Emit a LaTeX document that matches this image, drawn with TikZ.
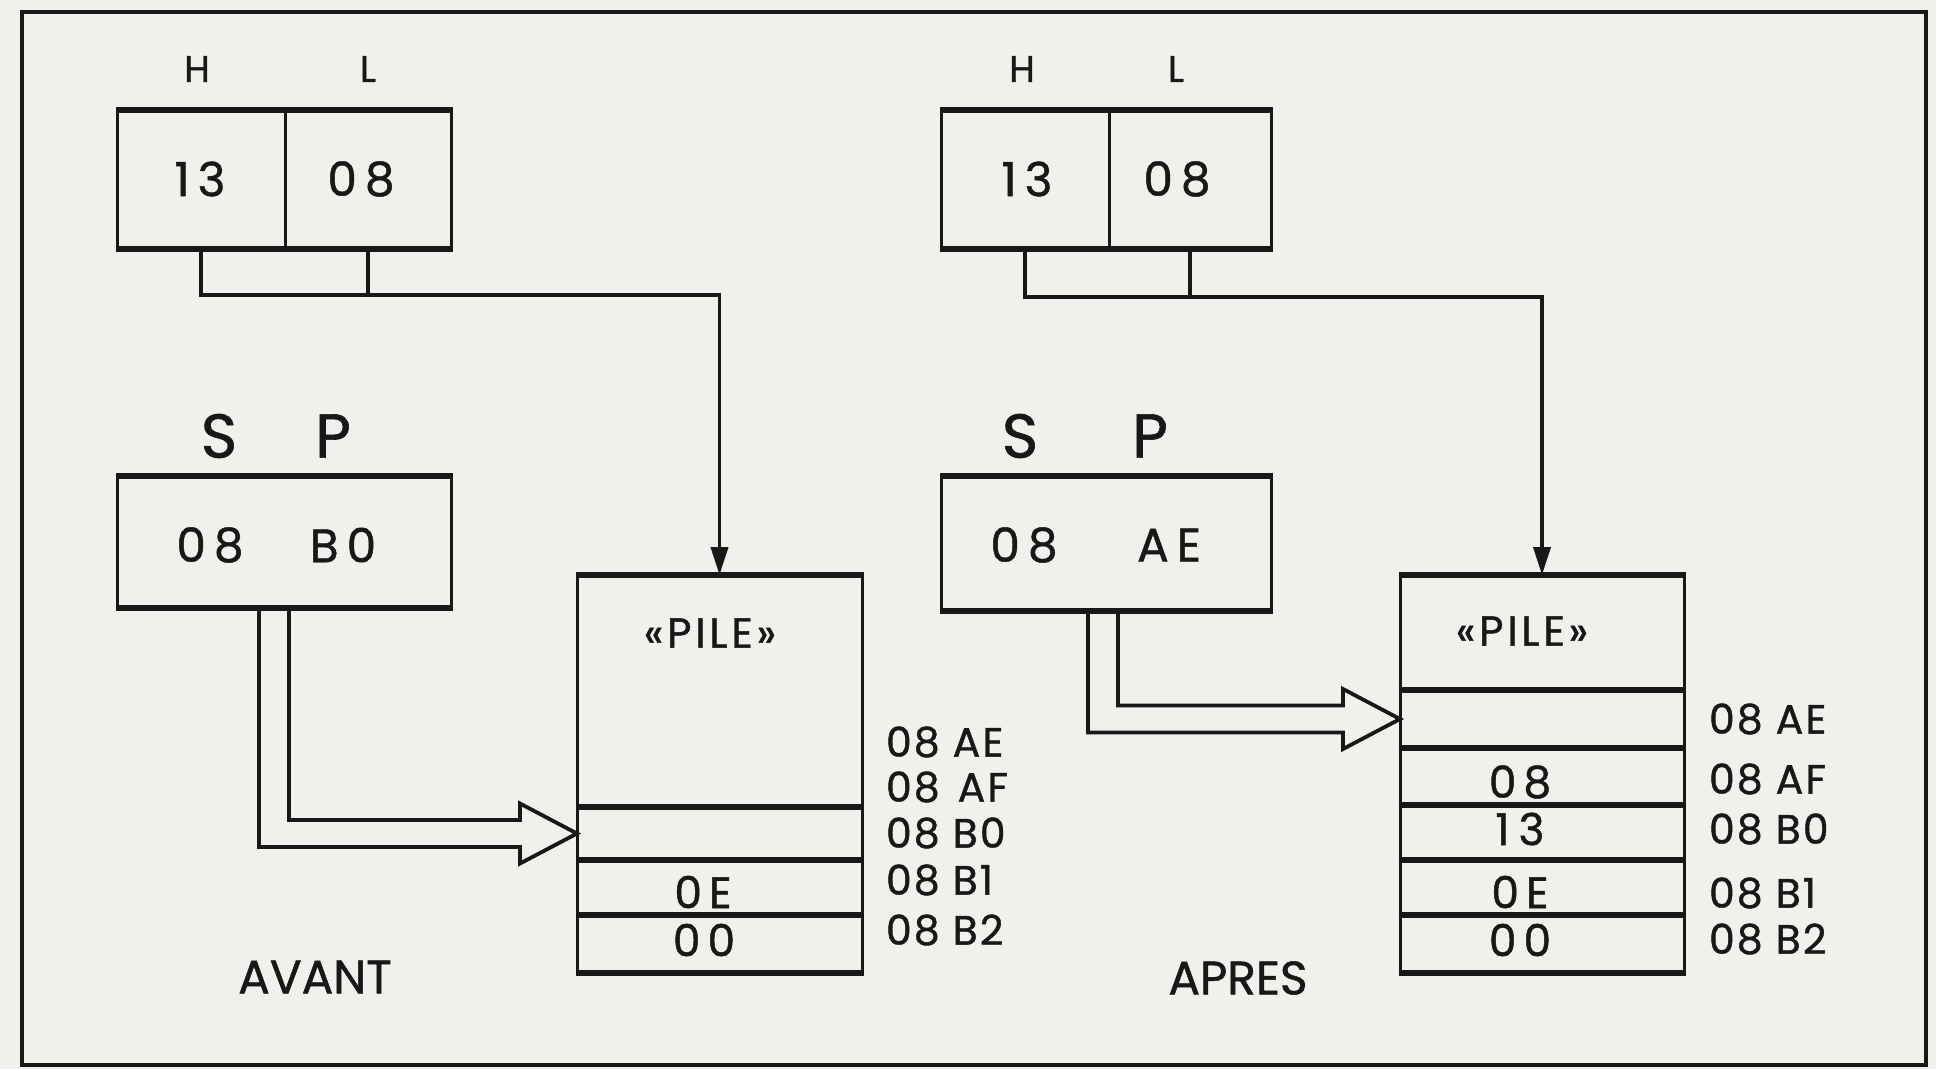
\documentclass[tikz,border=0pt]{standalone}
\usepackage{fontspec}
\setmainfont{Poppins}[FakeBold=1]
\usetikzlibrary{arrows.meta,calc}
\definecolor{bgc}{RGB}{240,240,237}
\definecolor{ink}{RGB}{24,24,24}
\tikzset{
  box/.style={draw=ink, line width=3pt, inner sep=0pt, outer sep=0pt},
  hedge/.style={draw=ink, line width=5.5pt, shorten <=-1.5pt, shorten >=-1.5pt},
  conn/.style={draw=ink, line width=3.8pt, line join=miter},
  txt/.style={text=ink, inner sep=0pt, outer sep=0pt},
  tHL/.style={txt, font=\fontsize{37pt}{37pt}\selectfont},
  tbig/.style={txt, font=\fontsize{47pt}{47pt}\selectfont},
  tSP/.style={txt, font=\fontsize{62pt}{62pt}\selectfont},
  tcell/.style={txt, font=\fontsize{44pt}{44pt}\selectfont},
  taddr/.style={txt, anchor=west, font=\fontsize{41pt}{41pt}\selectfont\addfontfeatures{LetterSpace=5}},
  tlab/.style={txt, font=\fontsize{47pt}{47pt}\selectfont},
  tpile/.style={txt, font=\fontsize{42pt}{42pt}\selectfont\addfontfeatures{LetterSpace=9}},
  tiptri/.style={-{Triangle[length=28pt,width=17pt]}}
}
\begin{document}
\begin{tikzpicture}[x=1pt,y=-1pt]
\useasboundingbox (0,0) rectangle (1936,1069);
\fill[bgc] (0,0) rectangle (1936,1069);
\draw[ink, line width=4pt] (22,12) rectangle (1926,1065);

% ================= LEFT (AVANT) =================
\node[box, minimum width=168pt, minimum height=139pt] (hA) at (201,179.5) {};
\node[box, minimum width=166pt, minimum height=139pt] (lA) at (368,179.5) {};
\node[tHL] (hAl) at (197,69) {H};
\node[tHL] (lAl) at (368,69) {L};
\node[tbig] (hAv) at (200,179) {1\hspace{8pt}3};
\node[tbig] (lAv) at (361,179) {0\hspace{8pt}8};

\node[tSP] (sAl) at (219,436) {S};
\node[tSP] (pAl) at (333,436) {P};
\node[box, minimum width=334pt, minimum height=132pt] (spA) at (284,542) {};
\node[tbig] (spAh) at (210,545) {0\hspace{8pt}8};
\node[tbig] (spAl) at (343,545) {B\hspace{8pt}0};

\node[box, minimum width=285pt, minimum height=232pt] (pA) at (719.5,691) {};
\node[box, minimum width=285pt, minimum height=53pt] (cA1) at (719.5,833.5) {};
\node[box, minimum width=285pt, minimum height=55pt] (cA2) at (719.5,887.5) {};
\node[box, minimum width=285pt, minimum height=58pt] (cA3) at (719.5,944) {};
\node[tpile] (pAt) at (710,633) {«PILE»};
\node[tcell] (cA2t) at (703,892) {0\hspace{7pt}E};
\node[tcell] (cA3t) at (704,940) {0\hspace{7pt}0};

\node[taddr] (aA1) at (886,742) {08 AE};
\node[taddr] (aA2) at (886,787) {08\hspace{18pt}AF};
\node[taddr] (aA3) at (886,833) {08 B0};
\node[taddr] (aA4) at (886,880) {08 B1};
\node[taddr] (aA5) at (886,930) {08 B2};
\node[tlab] (avant) at (315,977) {AVANT};

% HL -> pile
\coordinate (brA) at (0,295);
\draw[conn] (hA.south) |- (lA.south |- brA) -- (lA.south);
\draw[conn, tiptri] (lA.south |- brA) -| (pA.north);

% SP -> pile (hollow arrow)
\coordinate (tipA) at (cA1.west);
\coordinate (oA) at (259,0);
\coordinate (iA) at (289,0);
\coordinate (oyA) at ($(tipA)+(0,13.5)$);
\coordinate (iyA) at ($(tipA)+(0,-13.5)$);
\coordinate (bkA) at ($(tipA)+(-57,0)$);
\coordinate (hbA) at ($(tipA)+(0,30)$);
\coordinate (htA) at ($(tipA)+(0,-30)$);
\draw[conn] (oA |- spA.south) -- (oA |- oyA) -- (bkA |- oyA) -- (bkA |- hbA)
  -- (tipA) -- (bkA |- htA) -- (bkA |- iyA) -- (iA |- iyA) -- (iA |- spA.south);

% ================= RIGHT (APRES) =================
\node[box, minimum width=168pt, minimum height=139pt] (hB) at (1025,179.5) {};
\node[box, minimum width=162pt, minimum height=139pt] (lB) at (1190,179.5) {};
\node[tHL] (hBl) at (1022,69) {H};
\node[tHL] (lBl) at (1176,69) {L};
\node[tbig] (hBv) at (1027,179) {1\hspace{8pt}3};
\node[tbig] (lBv) at (1177,179) {0\hspace{8pt}8};

\node[tSP] (sBl) at (1020,436) {S};
\node[tSP] (pBl) at (1150,436) {P};
\node[box, minimum width=330pt, minimum height=135pt] (spB) at (1106,543.5) {};
\node[tbig] (spBh) at (1024,545) {0\hspace{8pt}8};
\node[tbig] (spBl) at (1169,545) {A\hspace{8pt}E};

\node[box, minimum width=284pt, minimum height=115pt] (pB) at (1542,632.5) {};
\node[box, minimum width=284pt, minimum height=58pt] (cB1) at (1542,719) {};
\node[box, minimum width=284pt, minimum height=57pt] (cB2) at (1542,776.5) {};
\node[box, minimum width=284pt, minimum height=55pt] (cB3) at (1542,832.5) {};
\node[box, minimum width=284pt, minimum height=55pt] (cB4) at (1542,887.5) {};
\node[box, minimum width=284pt, minimum height=58pt] (cB5) at (1542,944) {};
\node[tpile] (pBt) at (1522,631) {«PILE»};
\node[tcell] (cB2t) at (1520,782) {0\hspace{7pt}8};
\node[tcell] (cB3t) at (1520,829) {1\hspace{9pt}3};
\node[tcell] (cB4t) at (1520,892) {0\hspace{7pt}E};
\node[tcell] (cB5t) at (1520,940) {0\hspace{7pt}0};

\node[taddr] (aB1) at (1709,719) {08 AE};
\node[taddr] (aB2) at (1709,779) {08 AF};
\node[taddr] (aB3) at (1709,829) {08 B0};
\node[taddr] (aB4) at (1709,893) {08 B1};
\node[taddr] (aB5) at (1709,939) {08 B2};
\node[tlab] (apres) at (1238,978) {APRES};

\coordinate (brB) at (0,297);
\draw[conn] (hB.south) |- (lB.south |- brB) -- (lB.south);
\draw[conn, tiptri] (lB.south |- brB) -| (pB.north);

\coordinate (tipB) at (cB1.west);
\coordinate (oB) at (1088,0);
\coordinate (iB) at (1118,0);
\coordinate (oyB) at ($(tipB)+(0,13.5)$);
\coordinate (iyB) at ($(tipB)+(0,-13.5)$);
\coordinate (bkB) at ($(tipB)+(-57,0)$);
\coordinate (hbB) at ($(tipB)+(0,30)$);
\coordinate (htB) at ($(tipB)+(0,-30)$);
\draw[conn] (oB |- spB.south) -- (oB |- oyB) -- (bkB |- oyB) -- (bkB |- hbB)
  -- (tipB) -- (bkB |- htB) -- (bkB |- iyB) -- (iB |- iyB) -- (iB |- spB.south);

% thick horizontal edges
\foreach \n in {hA,lA,spA,pA,cA1,cA2,cA3,hB,lB,spB,pB,cB1,cB2,cB3,cB4,cB5} {
  \draw[hedge] (\n.north west) -- (\n.north east);
  \draw[hedge] (\n.south west) -- (\n.south east);
}
\end{tikzpicture}
\end{document}
